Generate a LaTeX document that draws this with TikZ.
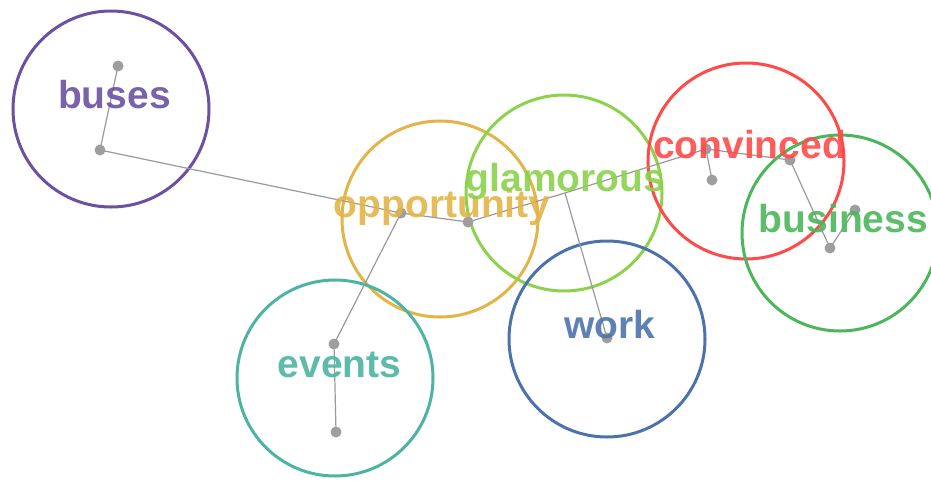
\documentclass[tikz,border=0pt]{standalone}
\usepackage{fontspec}
\setmainfont{Liberation Sans}
\definecolor{cpurple}{HTML}{6A51A3}
\definecolor{cgold}{HTML}{E3B448}
\definecolor{clgreen}{HTML}{8CD24C}
\definecolor{cred}{HTML}{FF4A4A}
\definecolor{cgreen}{HTML}{4CB65A}
\definecolor{cteal}{HTML}{4DB3A2}
\definecolor{cblue}{HTML}{4C72AC}
\definecolor{cdot}{HTML}{9E9E9E}
\definecolor{cline}{HTML}{9A9A9A}
\tikzset{
  ring/.style={circle, draw=#1, line width=3pt, minimum size=196pt, inner sep=0pt},
  dotnode/.style={circle, fill=cdot, minimum size=11pt, inner sep=0pt},
  link/.style={draw=cline, line width=1.2pt},
  word/.style={text=#1, anchor=base, inner sep=0pt, text opacity=0.9,
    font=\fontsize{39}{39}\selectfont\bfseries}
}
\begin{document}
\begin{tikzpicture}[x=1pt,y=-1pt]
\path[use as bounding box] (0,0) rectangle (931,480);
\begin{scope}
\clip (0,0) rectangle (931,480);
% circles
\node[ring=cpurple] (cbuses) at (111,109) {};
\node[ring=cgold] (copp) at (440,219) {};
\node[ring=clgreen] (cglam) at (564,193) {};
\node[ring=cred] (cconv) at (746,161) {};
\node[ring=cgreen] (cbus) at (840,233) {};
\node[ring=cteal] (cevents) at (335,378) {};
\node[ring=cblue] (cwork) at (607,339) {};
% points
\coordinate (b1) at (118,66);
\coordinate (b2) at (100,150);
\coordinate (o1) at (401,213);
\coordinate (o2) at (468,222);
\coordinate (g1) at (565,193);
\coordinate (c1) at (706,149);
\coordinate (c2) at (712,180);
\coordinate (c3) at (790,160);
\coordinate (s1) at (830,248);
\coordinate (s2) at (855,210);
\coordinate (e1) at (334,344);
\coordinate (e2) at (336,432);
\coordinate (w1) at (607,338);
% connectors
\draw[link] (b1) -- (b2);
\draw[link] (b2) -- (o1);
\draw[link] (o1) -- (o2);
\draw[link] (o1) -- (e1);
\draw[link] (e1) -- (e2);
\draw[link] (o2) -- (g1) -- (c1);
\draw[link] (g1) -- (w1);
\draw[link] (c1) -- (c2);
\draw[link] (c1) -- (c3);
\draw[link] (c3) -- (s1);
\draw[link] (s1) -- (s2);
% dots
\foreach \p in {b1,b2,o1,o2,c1,c2,c3,s1,s2,e1,e2,w1}
  \node[dotnode] (d\p) at (\p) {};
% labels
\node[word=cpurple] (tbuses) at (114.5,108) {buses};
\node[word=cgold] (topp) at (442,217) {opportunity};
\node[word=clgreen] (tglam) at (565.5,191) {glamorous};
\node[word=cred] (tconv) at (749.5,158) {convinced};
\node[word=cgreen] (tbus) at (843.5,232) {business};
\node[word=cteal] (tevents) at (339.5,377) {events};
\node[word=cblue] (twork) at (610,338) {work};
\end{scope}
\end{tikzpicture}
\end{document}
